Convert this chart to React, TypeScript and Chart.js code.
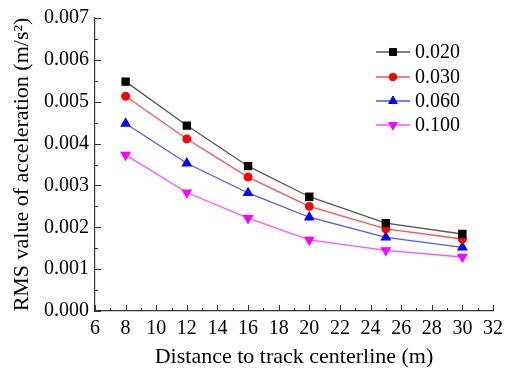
import React, { useEffect, useRef } from "react";
import { Chart, registerables } from "chart.js";
import { drawPoint } from "chart.js/helpers";

Chart.register(...registerables);

const distances = [8, 12, 16, 20, 25, 30];
const s020 = [0.00548, 0.00443, 0.00346, 0.00273, 0.0021, 0.00184];
const s030 = [0.00513, 0.00411, 0.0032, 0.0025, 0.00196, 0.00172];
const s060 = [0.00448, 0.00353, 0.00282, 0.00224, 0.00176, 0.00152];
const s100 = [0.00373, 0.00283, 0.00222, 0.0017, 0.00145, 0.00129];
const seriesLabels = ["0.020", "0.030", "0.060", "0.100"];
const xTicks = { min: 6, max: 32, step: 2 };
const yTicks = { min: 0, max: 0.007, step: 0.001 };

const FONT = "'Liberation Serif', 'Times New Roman', serif";

const inwardTicks = {
  id: "inwardTicks",
  afterDraw(chart: any) {
    const ctx = chart.ctx;
    const x = chart.scales.x;
    const y = chart.scales.y;
    const area = chart.chartArea;
    ctx.save();
    ctx.strokeStyle = "#333";
    ctx.lineWidth = 1;
    ctx.beginPath();
    for (let v = xTicks.min; v <= xTicks.max + 1e-9; v += 1) {
      const px = Math.round(x.getPixelForValue(v)) + 0.5;
      const len = v % 2 === 0 ? 6 : 3;
      ctx.moveTo(px, area.bottom);
      ctx.lineTo(px, area.bottom - len);
    }
    for (let i = 0; i <= 14; i++) {
      const v = i * 0.0005;
      const py = Math.round(y.getPixelForValue(v)) + 0.5;
      const len = i % 2 === 0 ? 6 : 3;
      ctx.moveTo(area.left, py);
      ctx.lineTo(area.left + len, py);
    }
    ctx.stroke();

    // legend
    const startX = 376;
    const endX = 410;
    const rowY = [52, 77, 101, 125];
    chart.data.datasets.forEach((ds: any, i: number) => {
      const yy = rowY[i];
      ctx.strokeStyle = ds.borderColor;
      ctx.lineWidth = 1.3;
      ctx.beginPath();
      ctx.moveTo(startX, yy);
      ctx.lineTo(endX, yy);
      ctx.stroke();
      ctx.fillStyle = ds.pointBackgroundColor;
      ctx.strokeStyle = ds.pointBorderColor;
      ctx.lineWidth = 1;
      drawPoint(ctx, {
        pointStyle: ds.pointStyle,
        rotation: ds.pointRotation || 0,
        radius: ds.pointRadius,
        borderWidth: 1,
      }, (startX + endX) / 2, yy);
      ctx.fillStyle = "#000";
      ctx.font = `20px ${FONT}`;
      ctx.textBaseline = "middle";
      ctx.textAlign = "left";
      ctx.fillText(seriesLabels[i], 415, yy + 1);
    });
    ctx.restore();
  },
};

export default function App() {
  const ref = useRef<HTMLCanvasElement>(null);
  useEffect(() => {
    document.body.style.margin = "0";
    const mk = (label: string, data: number[], line: string, fill: string, style: string, radius: number, rot = 0) => ({
      label,
      data: distances.map((d, i) => ({ x: d, y: data[i] })),
      borderColor: line,
      backgroundColor: fill,
      pointBackgroundColor: fill,
      pointBorderColor: fill,
      pointStyle: style,
      pointRadius: radius,
      pointRotation: rot,
      borderWidth: 1.3,
      tension: 0,
    });
    const datasets = [
      mk(seriesLabels[0], s020, "#555555", "#000000", "rect", 5),
      mk(seriesLabels[1], s030, "#ff5555", "#ff0000", "circle", 3.8),
      mk(seriesLabels[2], s060, "#5555ff", "#0000ff", "triangle", 5),
      mk(seriesLabels[3], s100, "#ff55ff", "#ff00ff", "triangle", 5, 180),
    ];
    const chart = new Chart(ref.current!, {
      type: "line",
      data: { datasets },
      options: {
        animation: false,
        responsive: false,
        devicePixelRatio: 1,
        layout: { padding: { top: 16, right: 17, left: 0, bottom: 0 } },
        plugins: { legend: { display: false }, tooltip: { enabled: false } },
        scales: {
          x: {
            type: "linear",
            min: xTicks.min,
            max: xTicks.max,
            grid: { display: false, drawTicks: false },
            border: { display: true, color: "#333", width: 1.2 },
            ticks: {
              stepSize: xTicks.step,
              color: "#000",
              font: { family: FONT, size: 20 },
              padding: 6,
              maxRotation: 0,
              autoSkip: false,
            },
            title: {
              display: true,
              text: "Distance to track centerline (m)",
              color: "#000",
              font: { family: FONT, size: 22 },
              padding: { top: 5, bottom: 0 },
            },
            afterFit: (s: any) => { s.height = 59; },
          },
          y: {
            type: "linear",
            min: yTicks.min,
            max: yTicks.max,
            grid: { display: false, drawTicks: false },
            border: { display: true, color: "#333", width: 1.2 },
            ticks: {
              stepSize: yTicks.step,
              color: "#000",
              font: { family: FONT, size: 20 },
              padding: 6,
              callback: (v: any) => Number(v).toFixed(3),
            },
            title: {
              display: true,
              text: "RMS value of acceleration (m/s²)",
              color: "#000",
              font: { family: FONT, size: 22 },
              padding: { top: 9, bottom: 0 },
            },
            afterFit: (s: any) => { s.width = 95; },
          },
        },
      },
      plugins: [inwardTicks],
    });
    return () => chart.destroy();
  }, []);
  return (
    <div style={{ width: 510, height: 370 }}>
      <canvas ref={ref} width={510} height={370} style={{ display: "block" }} />
    </div>
  );
}
